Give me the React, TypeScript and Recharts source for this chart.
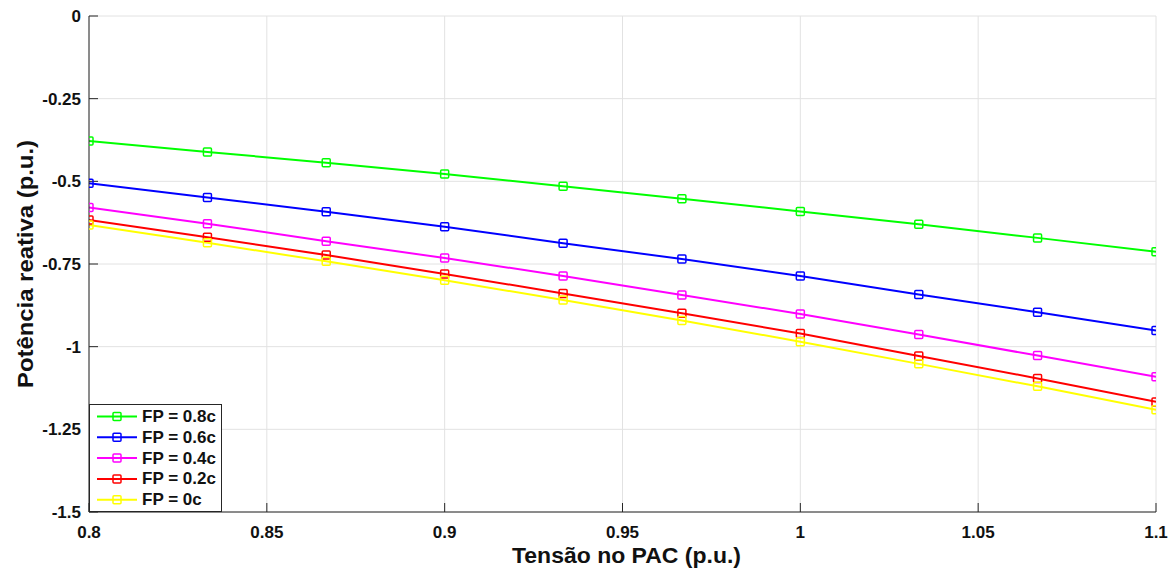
import { LineChart, Line, XAxis, YAxis, CartesianGrid, Legend, Label } from 'recharts';

const xValues = [0.8, 0.8333, 0.8667, 0.9, 0.9333, 0.9667, 1.0, 1.0333, 1.0667, 1.1];
const fp08 = [-0.378, -0.411, -0.444, -0.478, -0.515, -0.553, -0.591, -0.63, -0.671, -0.713];
const fp06 = [-0.506, -0.549, -0.592, -0.637, -0.687, -0.735, -0.786, -0.842, -0.896, -0.951];
const fp04 = [-0.579, -0.628, -0.681, -0.732, -0.786, -0.844, -0.901, -0.963, -1.027, -1.091];
const fp02 = [-0.617, -0.669, -0.723, -0.78, -0.839, -0.899, -0.96, -1.028, -1.096, -1.167];
const fp00 = [-0.632, -0.686, -0.742, -0.799, -0.859, -0.921, -0.985, -1.052, -1.12, -1.191];

const xTicks = [0.8, 0.85, 0.9, 0.95, 1, 1.05, 1.1];
const yTicks = [-1.5, -1.25, -1, -0.75, -0.5, -0.25, 0];

const series = [
  { key: 'fp08', name: 'FP = 0.8c', color: '#00ff00', values: fp08 },
  { key: 'fp06', name: 'FP = 0.6c', color: '#0000ff', values: fp06 },
  { key: 'fp04', name: 'FP = 0.4c', color: '#ff00ff', values: fp04 },
  { key: 'fp02', name: 'FP = 0.2c', color: '#ff0000', values: fp02 },
  { key: 'fp00', name: 'FP = 0c', color: '#ffff00', values: fp00 },
];

const data = xValues.map((x, i) => {
  const row: any = { x };
  series.forEach((s) => {
    row[s.key] = s.values[i];
  });
  return row;
});

const FONT = '"Liberation Sans", Arial, sans-serif';
const INK = '#262626';
const tickFont = { fontFamily: FONT, fontSize: 17, fontWeight: 'bold' };
const labelStyle = { fontFamily: FONT, fontSize: 22, fontWeight: 'bold' };

const XTick = (props: any) => {
  const { x, y, payload } = props;
  return (
    <text x={x} y={y} dy="0.71em" textAnchor="middle" style={tickFont} fill="#111">
      {payload.value}
    </text>
  );
};

const YTick = (props: any) => {
  const { x, y, payload } = props;
  return (
    <text x={x} y={y} dy="0.355em" textAnchor="end" style={tickFont} fill="#111">
      {payload.value}
    </text>
  );
};

const squareDot = (color: string) => (props: any) => {
  const { cx, cy, index } = props;
  return (
    <rect
      key={`d-${index}`}
      x={cx - 4}
      y={cy - 4}
      width={8}
      height={8}
      rx={1}
      fill="none"
      stroke={color}
      strokeWidth={1.5}
    />
  );
};

const renderLegend = () => (
  <svg width={133} height={108} style={{ display: 'block' }}>
    <rect x={0.5} y={0.5} width={132} height={107} fill="#fff" stroke={INK} strokeWidth={1} />
    {series.map((s, i) => {
      const cy = 12.5 + i * 20.8;
      return (
        <g key={s.key}>
          <line x1={8} x2={48} y1={cy} y2={cy} stroke={s.color} strokeWidth={2} />
          <rect x={24} y={cy - 4} width={8} height={8} rx={1} fill="none" stroke={s.color} strokeWidth={1.5} />
          <text x={53} y={cy} dominantBaseline="central" style={{ fontFamily: FONT, fontSize: 17, fontWeight: 'bold' }} fill="#111">
            {s.name}
          </text>
        </g>
      );
    })}
  </svg>
);

export default function App() {
  return (
    <div style={{ position: 'absolute', left: 0, top: 0, background: '#fff' }}>
      <LineChart width={1175} height={573} data={data} margin={{ top: 16, right: 19, left: 0, bottom: 0 }}>
        <CartesianGrid stroke="#e2e2e2" strokeWidth={1} xAxisId={0} yAxisId={0} />
        <XAxis
          xAxisId={0}
          dataKey="x"
          type="number"
          domain={[0.8, 1.1]}
          ticks={xTicks}
          allowDataOverflow
          height={61}
          stroke={INK}
          tickSize={-9}
          tickMargin={23}
          tick={<XTick />}
        >
          <Label
            content={(p: any) => {
              const vb = p.viewBox;
              return (
                <text
                  x={vb.x + vb.width / 2 + 4}
                  y={563}
                  textAnchor="middle"
                  textLength={229}
                  lengthAdjust="spacingAndGlyphs"
                  style={labelStyle}
                  fill="#111"
                >
                  Tensão no PAC (p.u.)
                </text>
              );
            }}
          />
        </XAxis>
        <XAxis
          xAxisId="top"
          orientation="top"
          dataKey="x"
          type="number"
          domain={[0.8, 1.1]}
          ticks={xTicks}
          allowDataOverflow
          height={0}
          stroke={INK}
          tickSize={-9}
          tickFormatter={() => ''}
        />
        <YAxis
          yAxisId={0}
          type="number"
          domain={[-1.5, 0]}
          ticks={yTicks}
          allowDataOverflow
          width={89}
          stroke={INK}
          tickSize={-9}
          tickMargin={17}
          tick={<YTick />}
        >
          <Label
            content={(p: any) => {
              const vb = p.viewBox;
              const cx = vb.x + 33;
              const cy = vb.y + vb.height / 2;
              return (
                <text
                  x={cx}
                  y={cy}
                  transform={`rotate(-90 ${cx} ${cy})`}
                  textAnchor="middle"
                  textLength={248}
                  lengthAdjust="spacingAndGlyphs"
                  style={labelStyle}
                  fill="#111"
                >
                  Potência reativa (p.u.)
                </text>
              );
            }}
          />
        </YAxis>
        <YAxis
          yAxisId="right"
          orientation="right"
          type="number"
          domain={[-1.5, 0]}
          ticks={yTicks}
          allowDataOverflow
          width={0}
          stroke={INK}
          tickSize={-9}
          tickFormatter={() => ''}
        />
        <Legend
          layout="vertical"
          align="center"
          verticalAlign="middle"
          content={renderLegend}
          wrapperStyle={{ left: 89, top: 404, width: 133, height: 108 }}
        />
        {series.map((s) => (
          <Line
            key={s.key}
            xAxisId={0}
            yAxisId={0}
            type="linear"
            dataKey={s.key}
            name={s.name}
            stroke={s.color}
            strokeWidth={2}
            dot={squareDot(s.color)}
            activeDot={false}
            isAnimationActive={false}
          />
        ))}
      </LineChart>
    </div>
  );
}
